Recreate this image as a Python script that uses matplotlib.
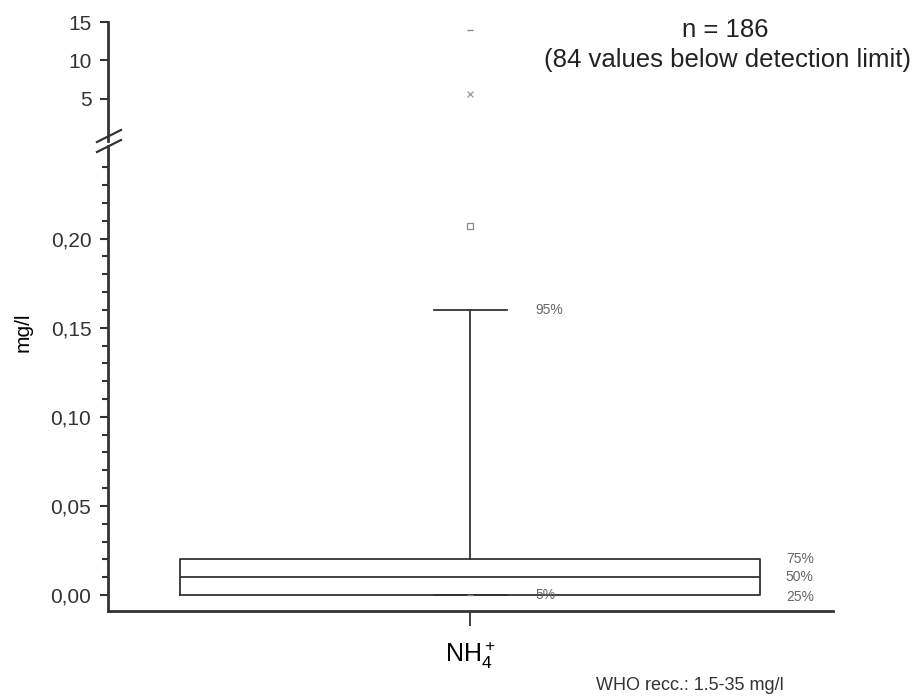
import matplotlib.pyplot as plt
from matplotlib.lines import Line2D

plt.rcParams['font.family'] = ['Liberation Sans', 'DejaVu Sans']
plt.rcParams['mathtext.fontset'] = 'custom'
plt.rcParams['mathtext.rm'] = 'Liberation Sans'
plt.rcParams['mathtext.it'] = 'Liberation Sans'

# box statistics (mg/l)
category = r'$\mathrm{NH_4^+}$'
p5 = 0.0
q1 = 0.0
median = 0.01
q3 = 0.02
p95 = 0.16
mean = 0.207
p99 = 5.65
vmin = 0.0
vmax = 14.0
pct_labels = ['95%', '75%', '50%', '25%', '5%']
pct_values = [p95, q3, median, -0.001, p5]

fig = plt.figure(figsize=(9.2, 6.98), dpi=100)
W, H = 920, 698
left, right = 108 / W, 833 / W
ax_top = fig.add_axes([left, 1 - 141 / H, right - left, (141 - 22) / H])
ax = fig.add_axes([left, 1 - 611 / H, right - left, (611 - 146) / H])

line_c = '#333333'
grey = '#666666'

# lower panel: box
ax.bxp([{'med': median, 'q1': q1, 'q3': q3, 'whislo': p5, 'whishi': p95,
         'fliers': [], 'label': category}],
       positions=[1], widths=1.6, capwidths=0.2, showfliers=False,
       boxprops=dict(color=line_c, lw=1.3),
       medianprops=dict(color=line_c, lw=1.3),
       whiskerprops=dict(color=line_c, lw=1.3),
       capprops=dict(color=line_c, lw=1.3))
ax.plot([1], [mean], marker='s', ms=4.5, mfc='white', mec='#888888', mew=0.9, ls='none')
ax.plot([1], [vmin], marker='_', ms=5, color='#888888', ls='none')

ax.set_xlim(0, 2)
ax.set_ylim(-0.009, 0.252)
ax.set_yticks([0.0, 0.05, 0.10, 0.15, 0.20])
ax.set_yticklabels(['0,00', '0,05', '0,10', '0,15', '0,20'])
ax.set_yticks([i / 100 for i in range(0, 25)], minor=True)
ax.set_xticks([1])
ax.set_xticklabels([category], fontsize=18)
ax.tick_params(axis='x', length=11, width=1.3, color=line_c, pad=10)
ax.tick_params(axis='y', which='major', length=6, width=1.5, color=line_c, labelsize=15,
               labelcolor='#333333', pad=6)
ax.tick_params(axis='y', which='minor', length=4, width=1.5, color=line_c)
for s in ['top', 'right']:
    ax.spines[s].set_visible(False)
for s in ['left', 'bottom']:
    ax.spines[s].set_linewidth(2)
    ax.spines[s].set_color(line_c)
ax.set_ylabel('mg/l', fontsize=15)
ax.yaxis.set_label_coords(-0.104, 0.6)

for lab, v in zip(pct_labels, pct_values):
    x = 1.18 if lab in ('95%', '5%') else 1.87
    ax.text(x, v, lab, fontsize=10, color=grey, va='center', ha='left')

# upper panel: extremes
ax_top.plot([1], [p99], marker='x', ms=4, color='#999999', mew=0.9, ls='none')
ax_top.plot([1], [vmax], marker='_', ms=5, color='#888888', ls='none')
ax_top.set_xlim(0, 2)
ax_top.set_ylim(-0.52, 15)
ax_top.set_yticks([5, 10, 15])
ax_top.set_xticks([])
ax_top.tick_params(axis='y', length=6, width=1.5, color=line_c, labelsize=15,
                   labelcolor='#333333', pad=6)
for s in ['top', 'right', 'bottom']:
    ax_top.spines[s].set_visible(False)
ax_top.spines['left'].set_linewidth(2)
ax_top.spines['left'].set_color(line_c)
ax_top.patch.set_alpha(0)

# axis break marks
for y0 in (142, 152):
    fig.add_artist(Line2D([97 / W, 121 / W], [1 - y0 / H, 1 - (y0 - 12) / H],
                          transform=fig.transFigure, color=line_c, lw=1.6))

fig.text(725 / W, 1 - 30 / H, 'n = 186', fontsize=18.5, ha='center', va='center', color='#222222')
fig.text(727 / W, 1 - 60 / H, '(84 values below detection limit)', fontsize=18.5,
         ha='center', va='center', color='#222222')
fig.text(690 / W, 1 - 686 / H, 'WHO recc.: 1.5-35 mg/l', fontsize=13, ha='center',
         va='center', color='#333333')

fig.savefig('out.png', dpi=100)
